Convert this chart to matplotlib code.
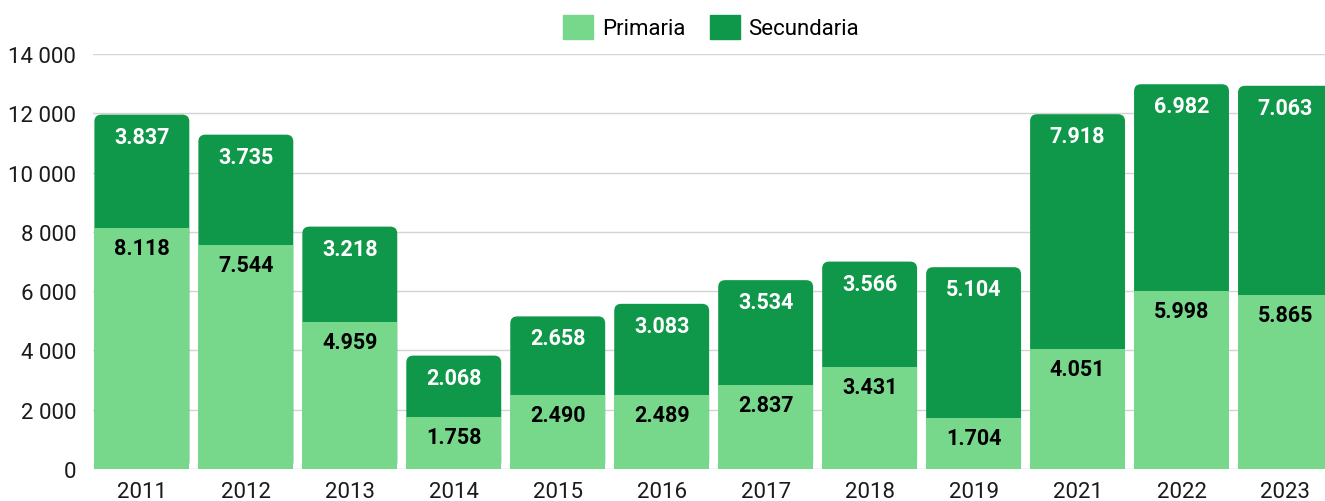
import matplotlib
matplotlib.use('Agg')
import matplotlib.pyplot as plt
from matplotlib.patches import FancyBboxPatch, Patch
from matplotlib.ticker import FuncFormatter

years = ['2011', '2012', '2013', '2014', '2015', '2016', '2017', '2018', '2019', '2021', '2022', '2023']
primaria = [8118, 7544, 4959, 1758, 2490, 2489, 2837, 3431, 1704, 4051, 5998, 5865]
secundaria = [3837, 3735, 3218, 2068, 2658, 3083, 3534, 3566, 5104, 7918, 6982, 7063]

light = '#77D78B'
dark = '#10984A'

plt.rcParams['font.family'] = ['Roboto', 'DejaVu Sans']

W, H = 1325, 502
fig = plt.figure(figsize=(W / 100, H / 100), dpi=100)
ax = fig.add_axes([93 / W, 32 / H, (1325 - 93) / W, (470 - 55) / H])

x = list(range(len(years)))
bw = 0.913
xlim = (-0.47, 11.38)
ylim = (0, 14000)
ax.set_xlim(*xlim)
ax.set_ylim(*ylim)

# data units per pixel, for rounded corners
ux = (xlim[1] - xlim[0]) / (1325 - 93)
uy = (ylim[1] - ylim[0]) / (470 - 55)
r = 7 * ux

totals = [p + s for p, s in zip(primaria, secundaria)]
dark_bars = ax.bar(x, secundaria, bw, bottom=primaria, color=dark, zorder=2)
for b in dark_bars:
    x0, y0 = b.get_x(), 0
    w, h = b.get_width(), b.get_y() + b.get_height()
    b.remove()
    ax.add_patch(FancyBboxPatch((x0, y0), w, h,
                                boxstyle=f'round,pad=0,rounding_size={r}',
                                mutation_aspect=uy / ux, fc=dark, ec='none',
                                zorder=2))
ax.bar(x, primaria, bw, color=light, zorder=3)

fmt = lambda v: f'{v:,}'.replace(',', '.')
for i in x:
    ax.annotate(fmt(secundaria[i]), (i, totals[i]), xytext=(0, -22),
                textcoords='offset pixels', ha='center', va='center',
                color='white', fontsize=15.5, fontweight='bold', zorder=5)
    ax.annotate(fmt(primaria[i]), (i, primaria[i]), xytext=(0, -20),
                textcoords='offset pixels', ha='center', va='center',
                color='black', fontsize=15.5, fontweight='bold', zorder=5)

ax.set_yticks(range(0, 14001, 2000))
ax.yaxis.set_major_formatter(FuncFormatter(lambda v, p: f'{int(v):,}'.replace(',', ' ')))
ax.set_xticks(x)
ax.set_xticklabels(years)
ax.tick_params(axis='both', length=0, labelsize=16, colors='#1a1a1a')
ax.tick_params(axis='y', pad=12)
ax.tick_params(axis='x', pad=9)
ax.grid(axis='y', color='#d4d4d4', linewidth=1, zorder=0)
ax.set_axisbelow(True)
for s in ax.spines.values():
    s.set_visible(False)

handles = [Patch(color=light, label='Primaria'), Patch(color=dark, label='Secundaria')]
fig.legend(handles=handles, loc='center', bbox_to_anchor=(711 / W, 1 - 28 / H),
           ncol=2, frameon=False, fontsize=16, handlelength=1.35, handleheight=1.35,
           handletextpad=0.4, columnspacing=1.1)

fig.savefig('out.png', dpi=100)
